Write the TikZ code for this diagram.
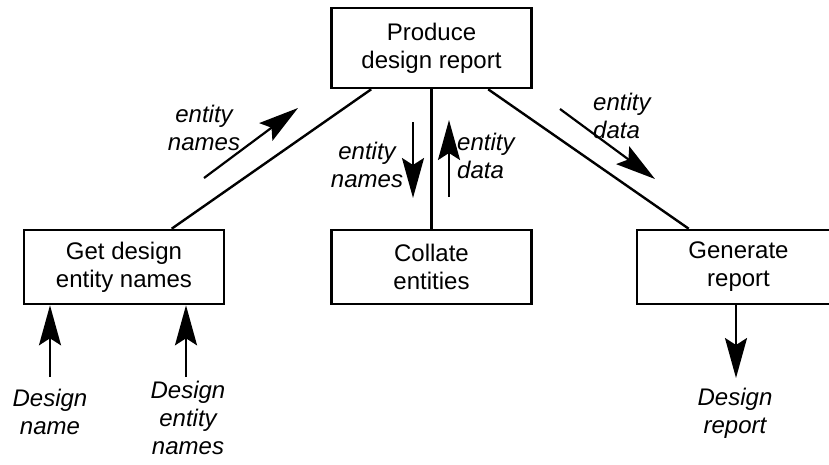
\documentclass[tikz,border=0pt]{standalone}
\usepackage{fontspec}
\setmainfont{Liberation Sans}
\usetikzlibrary{arrows.meta,calc}
\begin{document}
\begin{tikzpicture}[x=1pt,y=-1pt,
  every node/.style={font=\fontsize{24}{28}\selectfont},
  proc/.style={draw,line width=2.6pt,minimum width=#1,minimum height=74pt,
    align=center,inner sep=0pt},
  proc/.default=200pt,
  link/.style={line width=2.4pt},
  flow/.style={line width=2.2pt,-{Stealth[length=40pt,width=22pt,inset=7pt]}},
  lab/.style={font=\fontsize{24}{28}\selectfont\itshape,inner sep=0pt},
]
\useasboundingbox (0,0) rectangle (829,464);
\clip (0,0) rectangle (829,464);

% processes
\node[proc, minimum height=80pt] (top) at (431.5,48) {Produce\\design report};
\node[proc] (get) at (124,267) {Get design\\entity names};
\node[proc] (col) at (431.5,267) {Collate\\entities};
\node[proc, minimum width=203pt] (gen) at (738.5,267) {Generate\\report};

% structure links
\draw[link] ($(top.south west)+(41,0)$) -- ($(get.north west)+(149,0)$);
\draw[link] (top.south) -- (col.north);
\draw[link] ($(top.south west)+(158,0)$) -- ($(gen.north west)+(53,0)$);

% data flows between processes
\coordinate (a1) at (204,178); \coordinate (a2) at (298,108);
\coordinate (b1) at (413,122); \coordinate (b2) at (413,198);
\coordinate (c1) at (449,197); \coordinate (c2) at (449,120);
\coordinate (d1) at (560,109); \coordinate (d2) at (655,179);
\draw[flow] (a1) -- (a2);
\draw[flow] (b1) -- (b2);
\draw[flow] (c1) -- (c2);
\draw[flow] (d1) -- (d2);

\node[lab, align=center] (la) at (204,128) {entity\\names};
\node[lab, align=center] (lb) at (367,165) {entity\\names};
\node[lab, align=left, anchor=west] (lc) at (457,156) {entity\\data};
\node[lab, align=left, anchor=west] (ld) at (593,116) {entity\\data};

% external inputs and output
\node[lab, align=center] (in1) at (50,412) {Design\\name};
\node[lab, align=center] (in2) at (188,418) {Design\\entity\\names};
\node[lab, align=center] (out) at (735,413) {Design\\report};
\coordinate (i1) at (50,377);
\coordinate (i2) at (186,377);
\coordinate (o1) at (736,378);
\draw[flow] (i1) -- (i1 |- get.south);
\draw[flow] (i2) -- (i2 |- get.south);
\draw[flow] (o1 |- gen.south) -- (o1);
\end{tikzpicture}
\end{document}
